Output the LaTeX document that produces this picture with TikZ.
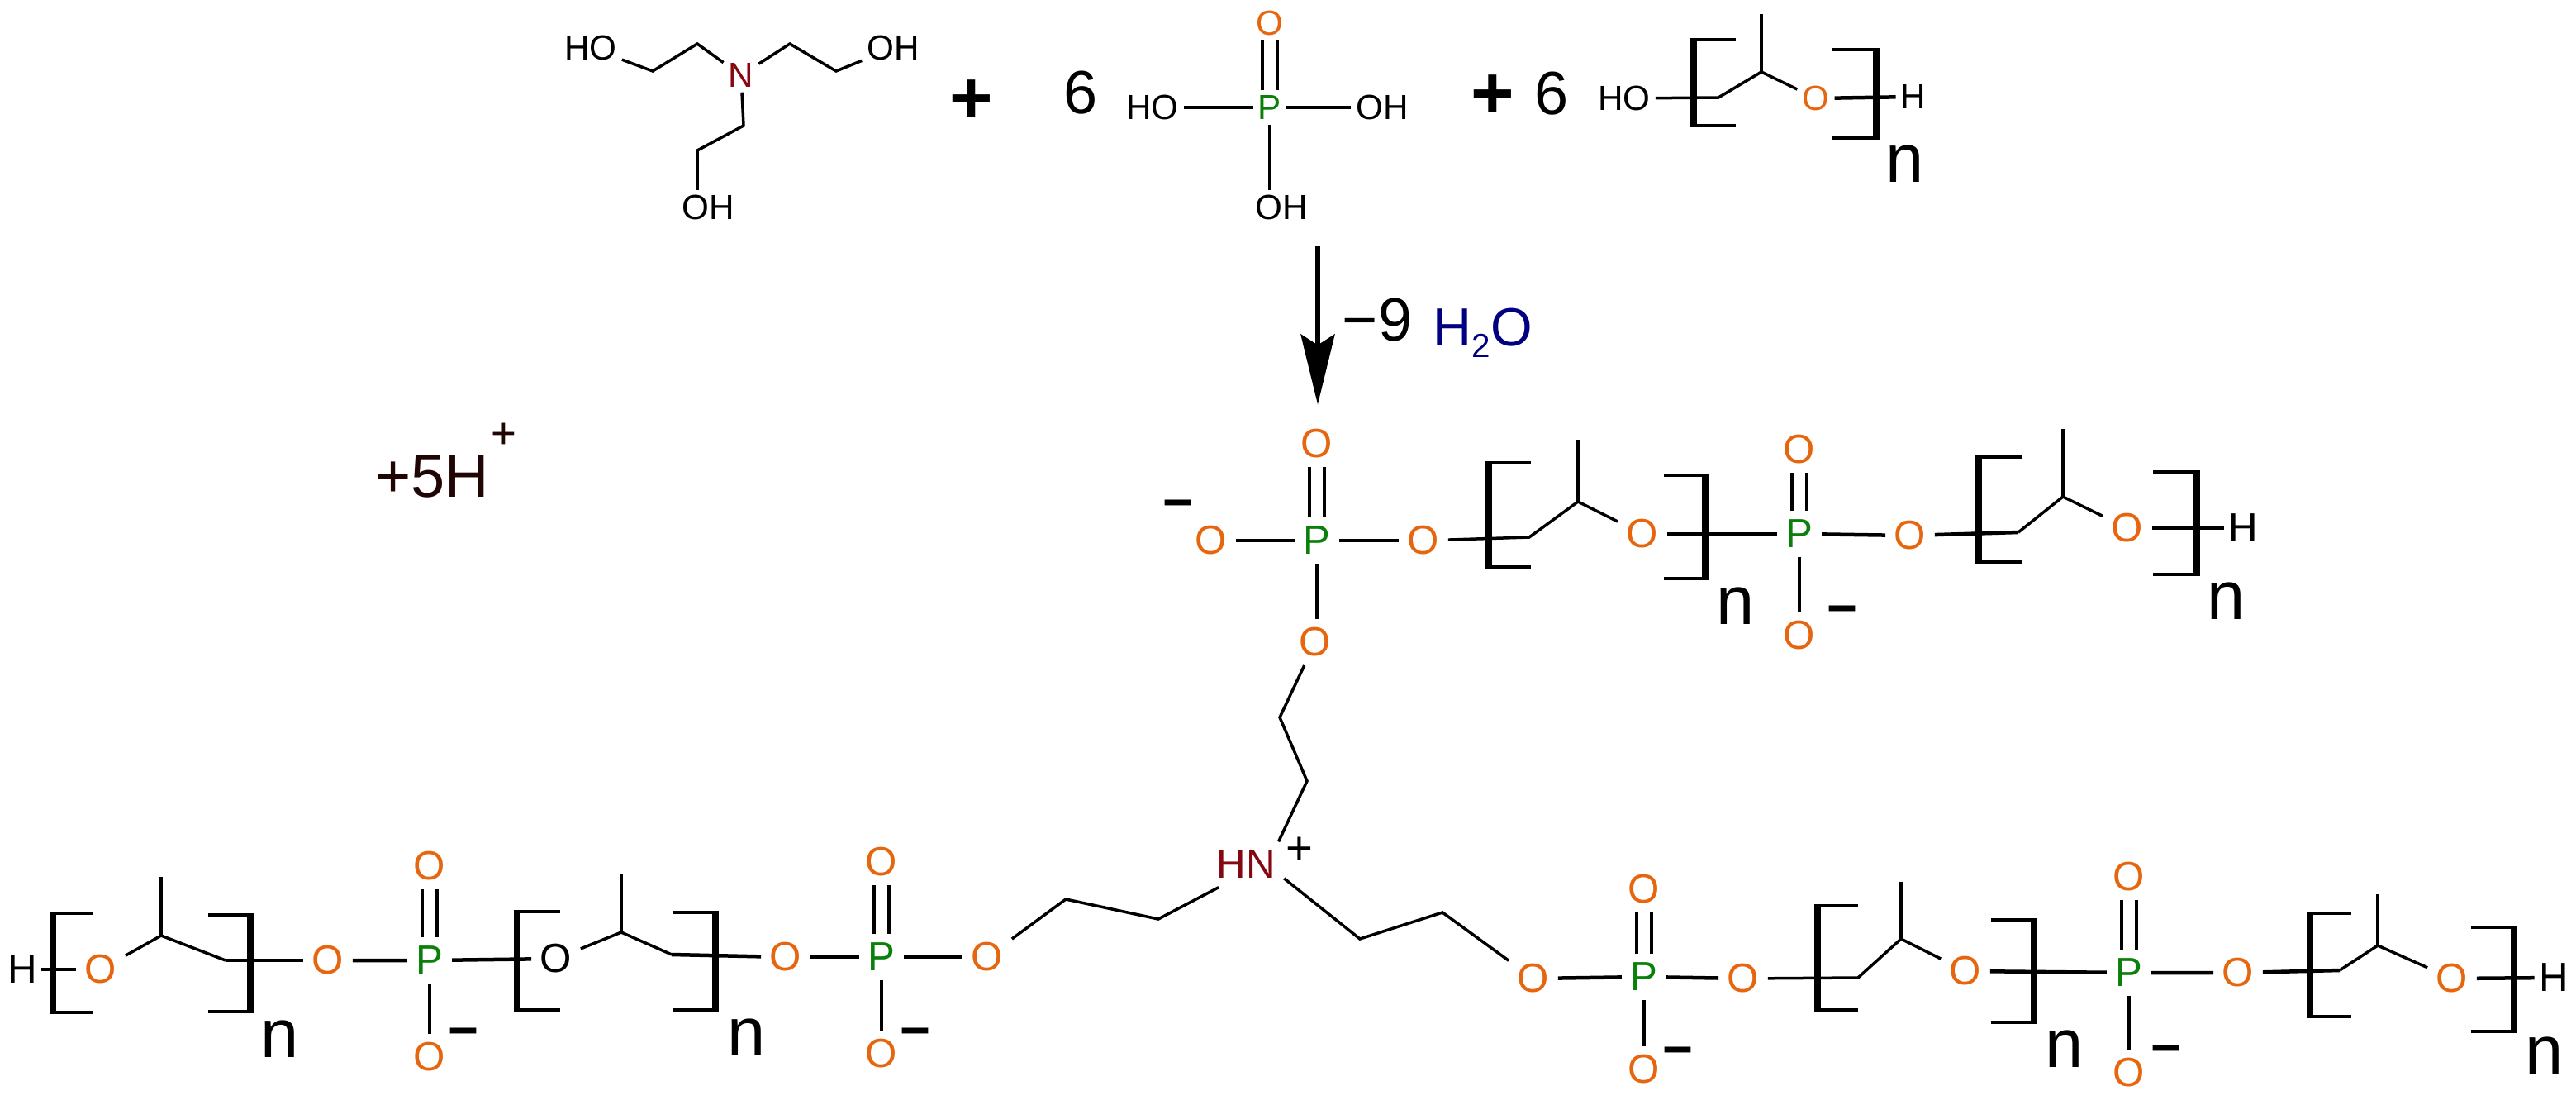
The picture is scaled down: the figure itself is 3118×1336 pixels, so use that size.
\documentclass[tikz,border=0pt]{standalone}
\usepackage{fontspec}
\setmainfont{Liberation Sans}
\usetikzlibrary{arrows.meta}
\definecolor{oxycol}{HTML}{E5660F}
\definecolor{phoscol}{HTML}{0A800A}
\definecolor{nitcol}{HTML}{850810}
\definecolor{watercol}{HTML}{000080}
\definecolor{protcol}{HTML}{200505}
\tikzset{
  atom/.style={inner sep=0.1cm, font=\fontsize{14}{14}\selectfont},
  lil/.style={inner sep=0.055cm, font=\fontsize{12}{12}\selectfont},
  oxy/.style={atom, text=oxycol},
  phos/.style={atom, text=phoscol},
  hyd/.style={atom, inner sep=0.05cm},
  rep/.style={inner sep=0pt, font=\fontsize{23.6}{24}\selectfont},
  big/.style={inner sep=0pt, font=\fontsize{21}{21}\selectfont},
  plusb/.style={inner sep=0pt, font=\fontsize{25.6}{26}\selectfont\bfseries},
  charge/.style={inner sep=0pt, font=\fontsize{18}{18}\selectfont\bfseries},
  bond/.style={line width=0.035cm},
  hbond/.style={line width=0.045cm},
  dbond/.style={line width=0.035cm, double, double distance=0.145cm},
  brkh/.style={line width=0.045cm},
  brkv/.style={line width=0.08cm, shorten <=-0.022cm, shorten >=-0.022cm},
}
\newcommand{\brk}[4]{
  \draw [brkh] (#4, #2) -- (#1, #2) -- (#1, #3) -- (#4, #3);
  \draw [brkv] (#1, #2) -- (#1, #3);
}
\begin{document}
\begin{tikzpicture}[x=0.01cm, y=-0.01cm]
    \useasboundingbox (0, 0) rectangle (3118, 1336);

    \node [lil] (ho1) at (715, 58) {HO};
    \node [lil] (oh1) at (1081, 58) {OH};
    \node [lil] (oh2) at (857, 251) {OH};
    \node [atom, lil, text=nitcol] (n0) at (897, 91) {N};
    \coordinate (a1) at (790, 86);
    \coordinate (a2) at (844, 53);
    \coordinate (a3) at (956, 53);
    \coordinate (a4) at (1012, 86);
    \coordinate (a5) at (900, 152);
    \coordinate (a6) at (844, 182);
    \draw [bond] (ho1) -- (a1) -- (a2) -- (n0) -- (a3) -- (a4) -- (oh1);
    \draw [bond] (n0) -- (a5) -- (a6) -- (a6 |- oh2.north);

    \node [plusb] (pl1) at (1176, 123) {+};
    \node [big] (six1) at (1308, 112) {6};

    \node [phos, lil] (p0) at (1537, 130) {P};
    \node [oxy, lil] (o0) at (1537, 28) {O};
    \node [lil] (ho3) at (1395, 130) {HO};
    \node [lil] (oh3) at (1673, 130) {OH};
    \node [lil] (oh4) at (1551, 251) {OH};
    \draw [dbond] (p0.north) -- (p0 |- o0.south);
    \draw [hbond] (ho3) -- (p0) -- (oh3);
    \draw [bond] (p0.south) -- (p0 |- oh4.north);

    \node [plusb] (pl2) at (1807, 117) {+};
    \node [big] (six2) at (1878, 113) {6};

    \node [lil] (ho5) at (1966, 119) {HO};
    \node [oxy, lil] (oa) at (2198, 119) {O};
    \node [lil] (ha) at (2316, 117) {H};
    \node [rep] (na) at (2306, 198) {n};
    \coordinate (b1) at (2080, 118);
    \coordinate (b2) at (2132, 87);
    \coordinate (b3) at (2132, 17);
    \draw [bond] (ho5) -- (b1) -- (b2) -- (oa);
    \draw [bond] (b2) -- (b3);
    \draw [hbond] (oa) -- (ha);
    \brk{2050}{48}{152}{2101}
    \brk{2271}{60}{167}{2217}

    \node [inner sep=0pt] (top) at (1595, 296) {};
    \node [inner sep=0pt] (tip) at (1595, 492) {};
    \draw [line width=0.06cm, -{Stealth[length=0.85cm, width=0.41cm, inset=0.13cm]}] (top) -- (tip);
    \node [big] (nine) at (1667, 387) {−9};
    \node [anchor=base, text=watercol, font=\fontsize{18.5}{19}\selectfont] (water) at (1795, 418) {H\raisebox{-0.22em}{\fontsize{11.5}{12}\selectfont 2}O};

    \node [big, anchor=base, text=protcol] (prot) at (523, 601) {+5H};
    \node [inner sep=0pt, text=protcol, font=\fontsize{15}{15}\selectfont] (protp) at (610, 527) {+};

    \node [charge] (m1) at (1426, 617) {−};
    \node [oxy] (o1) at (1466, 654) {O};
    \node [phos] (p1) at (1594, 654) {P};
    \node [oxy] (o2) at (1594, 537) {O};
    \node [oxy] (o3) at (1723, 654) {O};
    \node [oxy] (o4) at (1592, 777) {O};
    \draw [hbond] (o1) -- (p1) -- (o3);
    \draw [dbond] (p1.north) -- (p1 |- o2.south);
    \draw [bond] (p1.south) -- (p1 |- o4.north);

    \coordinate (c1) at (1851, 650);
    \coordinate (c2) at (1910, 607);
    \coordinate (c3) at (1910, 532);
    \node [oxy] (o5) at (1988, 646) {O};
    \node [phos] (p2) at (2178, 646) {P};
    \node [oxy] (o6) at (2178, 544) {O};
    \node [oxy] (o7) at (2178, 769) {O};
    \node [charge] (m2) at (2230, 745) {−};
    \node [rep] (n1) at (2101, 733) {n};
    \draw [bond] (o3) -- (c1) -- (c2) -- (o5);
    \draw [bond] (c2) -- (c3);
    \draw [hbond] (o5) -- (p2);
    \draw [dbond] (p2.north) -- (p2 |- o6.south);
    \draw [bond] (p2.south) -- (p2 |- o7.north);
    \brk{1802}{560}{686}{1853}
    \brk{2064}{575}{700}{2014}

    \coordinate (c4) at (2443, 644);
    \coordinate (c5) at (2497, 601);
    \coordinate (c6) at (2497, 519);
    \node [oxy] (o8) at (2312, 648) {O};
    \node [oxy] (o9) at (2575, 639) {O};
    \node [hyd] (h1) at (2715, 639) {H};
    \node [rep] (n2) at (2695, 727) {n};
    \draw [hbond] (p2) -- (o8) -- (c4);
    \draw [bond] (c4) -- (c5) -- (o9);
    \draw [bond] (c5) -- (c6);
    \draw [hbond] (o9) -- (h1);
    \brk{2395}{553}{680}{2448}
    \brk{2659}{571}{695}{2606}

    \node [atom, text=nitcol] (hn) at (1508, 1046) {HN};
    \node [inner sep=0pt, font=\fontsize{16}{16}\selectfont] (hnp) at (1573, 1029) {+};
    \coordinate (e1) at (1549, 868);
    \coordinate (e2) at (1582, 945);
    \draw [bond] (o4) -- (e1) -- (e2) -- (hn.35);

    \node [oxy] (o10) at (1195, 1158) {O};
    \coordinate (e3) at (1290, 1088);
    \coordinate (e4) at (1402, 1112);
    \draw [bond] (o10) -- (e3) -- (e4) -- (hn.-140);

    \node [oxy] (o11) at (1856, 1184) {O};
    \coordinate (e5) at (1646, 1136);
    \coordinate (e6) at (1746, 1104);
    \draw [bond] (hn.-20) -- (e5) -- (e6) -- (o11);

    \node [phos] (p3) at (1067, 1158) {P};
    \node [oxy] (o12) at (1067, 1043) {O};
    \node [oxy] (o13) at (1067, 1275) {O};
    \node [charge] (m3) at (1108, 1256) {−};
    \node [oxy] (o14) at (951, 1158) {O};
    \draw [hbond] (o14) -- (p3) -- (o10);
    \draw [dbond] (p3.north) -- (p3 |- o12.south);
    \draw [bond] (p3.south) -- (p3 |- o13.north);

    \coordinate (d1) at (813, 1155);
    \coordinate (d2) at (752, 1128);
    \coordinate (d3) at (752, 1058);
    \node [atom] (o15) at (673, 1160) {O};
    \node [rep] (n3) at (904, 1255) {n};
    \draw [hbond] (o14) -- (d1);
    \draw [bond] (d1) -- (d2) -- (o15);
    \draw [bond] (d2) -- (d3);
    \brk{626}{1103}{1222}{678}
    \brk{866}{1104}{1222}{815}

    \node [phos] (p4) at (520, 1162) {P};
    \node [oxy] (o16) at (520, 1048) {O};
    \node [oxy] (o17) at (520, 1279) {O};
    \node [charge] (m4) at (561, 1256) {−};
    \node [oxy] (o18) at (397, 1162) {O};
    \draw [hbond] (o18) -- (p4) -- (o15);
    \draw [dbond] (p4.north) -- (p4 |- o16.south);
    \draw [bond] (p4.south) -- (p4 |- o17.north);

    \coordinate (d4) at (273, 1162);
    \coordinate (d5) at (195, 1132);
    \coordinate (d6) at (195, 1061);
    \node [oxy] (o19) at (122, 1173) {O};
    \node [hyd] (h2) at (27, 1173) {H};
    \node [rep] (n4) at (339, 1257) {n};
    \draw [hbond] (o18) -- (d4);
    \draw [bond] (d4) -- (d5) -- (o19);
    \draw [bond] (d5) -- (d6);
    \draw [hbond] (o19) -- (h2);
    \brk{64}{1105}{1225}{112}
    \brk{303}{1107}{1224}{252}

    \node [phos] (p5) at (1990, 1182) {P};
    \node [oxy] (o20) at (1990, 1076) {O};
    \node [oxy] (o21) at (1990, 1294) {O};
    \node [charge] (m5) at (2031, 1279) {−};
    \node [oxy] (o22) at (2110, 1184) {O};
    \draw [hbond] (o11) -- (p5) -- (o22);
    \draw [dbond] (p5.north) -- (p5 |- o20.south);
    \draw [bond] (p5.south) -- (p5 |- o21.north);

    \coordinate (f1) at (2249, 1183);
    \coordinate (f2) at (2301, 1136);
    \coordinate (f3) at (2301, 1067);
    \node [oxy] (o23) at (2379, 1175) {O};
    \node [rep] (n5) at (2499, 1269) {n};
    \draw [bond] (o22) -- (f1) -- (f2) -- (o23);
    \draw [bond] (f2) -- (f3);
    \brk{2200}{1096}{1222}{2249}
    \brk{2462}{1113}{1237}{2410}

    \node [phos] (p6) at (2577, 1177) {P};
    \node [oxy] (o24) at (2577, 1061) {O};
    \node [oxy] (o25) at (2577, 1298) {O};
    \node [charge] (m6) at (2622, 1277) {−};
    \node [oxy] (o26) at (2709, 1177) {O};
    \draw [hbond] (o23) -- (p6) -- (o26);
    \draw [dbond] (p6.north) -- (p6 |- o24.south);
    \draw [bond] (p6.south) -- (p6 |- o25.north);

    \coordinate (f4) at (2832, 1174);
    \coordinate (f5) at (2878, 1144);
    \coordinate (f6) at (2878, 1082);
    \node [oxy] (o27) at (2968, 1184) {O};
    \node [hyd] (h3) at (3091, 1183) {H};
    \node [rep] (n6) at (3080, 1277) {n};
    \draw [hbond] (o26) -- (f4);
    \draw [bond] (f4) -- (f5) -- (o27);
    \draw [bond] (f5) -- (f6);
    \draw [hbond] (o27) -- (h3);
    \brk{2796}{1105}{1230}{2846}
    \brk{3043}{1122}{1248}{2991}
  \end{tikzpicture}
\end{document}
